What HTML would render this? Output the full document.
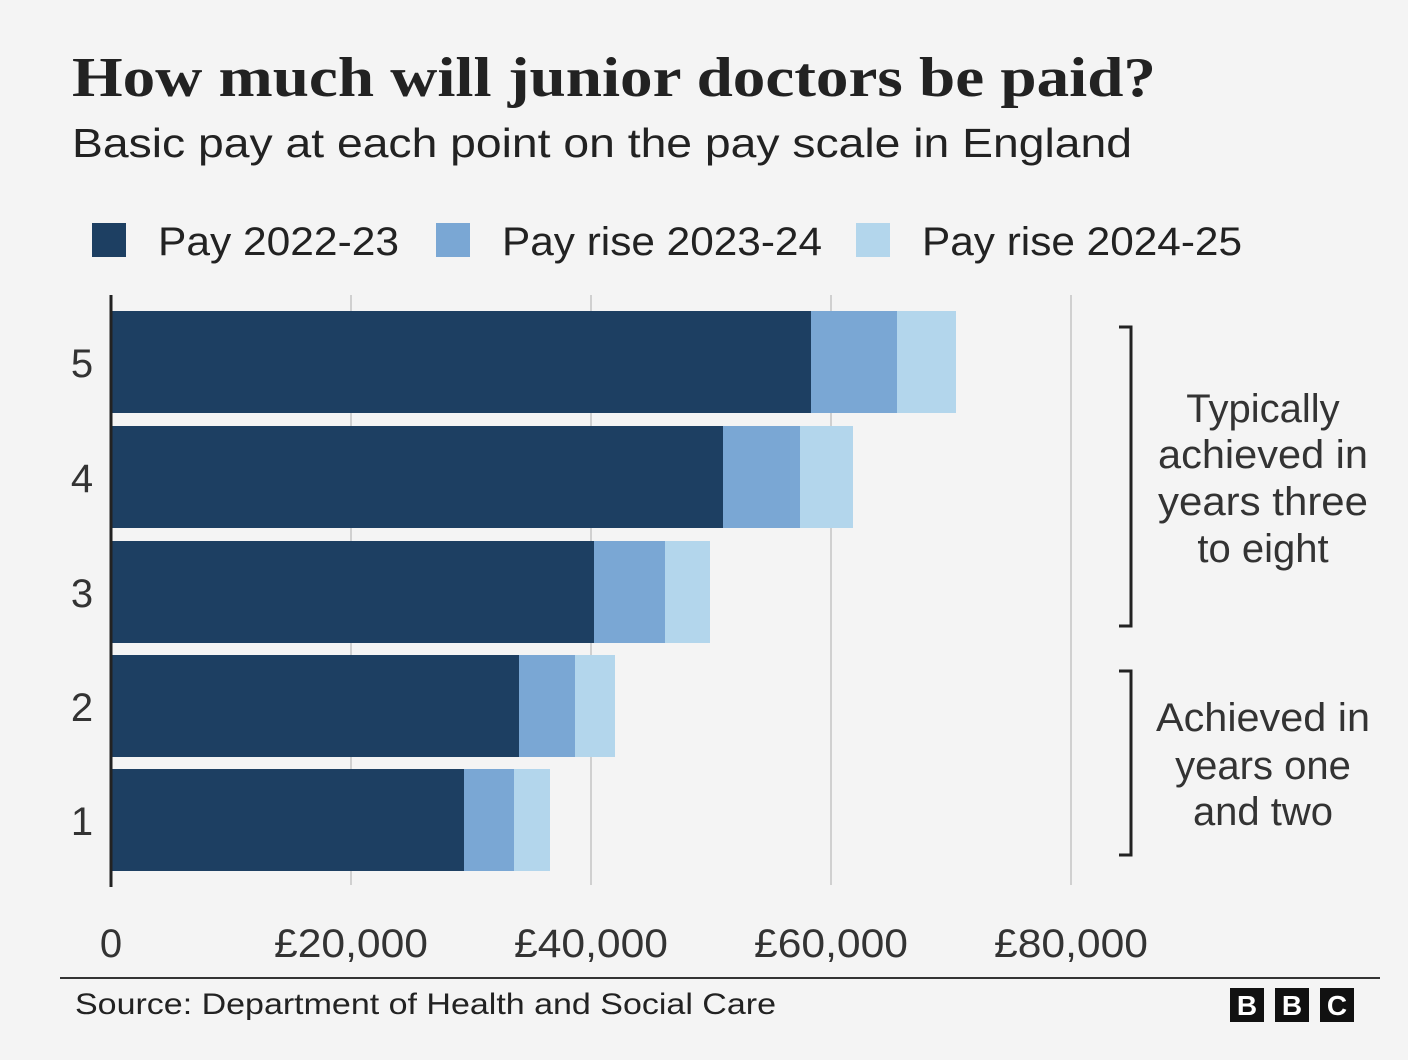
<!DOCTYPE html>
<html><head><meta charset="utf-8"><style>
body{margin:0;background:#f4f4f4;}
svg{display:block}
</style></head><body>
<svg width="1408" height="1060" xmlns="http://www.w3.org/2000/svg" font-family="Liberation Sans, sans-serif">
<rect width="1408" height="1060" fill="#f4f4f4"/>
<text x="72" y="96" font-family="Liberation Serif, serif" font-weight="bold" font-size="56" fill="#222" textLength="1084" lengthAdjust="spacingAndGlyphs">How much will junior doctors be paid?</text>
<text x="72" y="157" font-size="41" fill="#222" textLength="1060" lengthAdjust="spacingAndGlyphs">Basic pay at each point on the pay scale in England</text>
<rect x="92" y="223" width="34" height="34" fill="#1d3f62"/>
<text x="158" y="255" font-size="40" fill="#222" textLength="241" lengthAdjust="spacingAndGlyphs">Pay 2022-23</text>
<rect x="436" y="223" width="34" height="34" fill="#7aa7d4"/>
<text x="502" y="255" font-size="40" fill="#222" textLength="320" lengthAdjust="spacingAndGlyphs">Pay rise 2023-24</text>
<rect x="856" y="223" width="34" height="34" fill="#b3d6ec"/>
<text x="922" y="255" font-size="40" fill="#222" textLength="320" lengthAdjust="spacingAndGlyphs">Pay rise 2024-25</text>
<g stroke="#d0d0d0" stroke-width="2">
<line x1="351" y1="295" x2="351" y2="885"/><line x1="591" y1="295" x2="591" y2="885"/>
<line x1="831" y1="295" x2="831" y2="885"/><line x1="1071" y1="295" x2="1071" y2="885"/>
</g>
<g>
<rect x="111" y="311" width="700" height="102" fill="#1d3f62"/><rect x="811" y="311" width="86" height="102" fill="#7aa7d4"/><rect x="897" y="311" width="59" height="102" fill="#b3d6ec"/>
<rect x="111" y="426" width="612" height="102" fill="#1d3f62"/><rect x="723" y="426" width="77" height="102" fill="#7aa7d4"/><rect x="800" y="426" width="53" height="102" fill="#b3d6ec"/>
<rect x="111" y="541" width="483" height="102" fill="#1d3f62"/><rect x="594" y="541" width="71" height="102" fill="#7aa7d4"/><rect x="665" y="541" width="45" height="102" fill="#b3d6ec"/>
<rect x="111" y="655" width="408" height="102" fill="#1d3f62"/><rect x="519" y="655" width="56" height="102" fill="#7aa7d4"/><rect x="575" y="655" width="40" height="102" fill="#b3d6ec"/>
<rect x="111" y="769" width="353" height="102" fill="#1d3f62"/><rect x="464" y="769" width="50" height="102" fill="#7aa7d4"/><rect x="514" y="769" width="36" height="102" fill="#b3d6ec"/>
</g>
<line x1="111" y1="295" x2="111" y2="887" stroke="#222" stroke-width="3"/>
<g font-size="40" fill="#333" text-anchor="middle">
<text x="82" y="377">5</text><text x="82" y="492">4</text><text x="82" y="607">3</text><text x="82" y="721">2</text><text x="82" y="835">1</text>
</g>
<g font-size="40" fill="#333" text-anchor="middle">
<text x="111" y="957">0</text><text x="351" y="957" textLength="154" lengthAdjust="spacingAndGlyphs">£20,000</text><text x="591" y="957" textLength="154" lengthAdjust="spacingAndGlyphs">£40,000</text><text x="831" y="957" textLength="154" lengthAdjust="spacingAndGlyphs">£60,000</text><text x="1071" y="957" textLength="154" lengthAdjust="spacingAndGlyphs">£80,000</text>
</g>
<g stroke="#222" stroke-width="3" fill="none">
<polyline points="1119,327 1131,327 1131,626 1119,626"/>
<polyline points="1119,671 1131,671 1131,855 1119,855"/>
</g>
<g font-size="40" fill="#333" text-anchor="middle">
<text x="1263" y="422">Typically</text><text x="1263" y="468" textLength="210" lengthAdjust="spacingAndGlyphs">achieved in</text><text x="1263" y="515" textLength="210" lengthAdjust="spacingAndGlyphs">years three</text><text x="1263" y="562">to eight</text>
<text x="1263" y="731" textLength="214" lengthAdjust="spacingAndGlyphs">Achieved in</text><text x="1263" y="779">years one</text><text x="1263" y="825">and two</text>
</g>
<line x1="60" y1="978" x2="1380" y2="978" stroke="#333" stroke-width="2"/>
<text x="75" y="1014" font-size="30" fill="#222" textLength="701" lengthAdjust="spacingAndGlyphs">Source: Department of Health and Social Care</text>
<g font-weight="bold" font-size="28" fill="#fff" text-anchor="middle">
<rect x="1230" y="988" width="34" height="34" fill="#111"/><text x="1247" y="1015">B</text>
<rect x="1275" y="988" width="34" height="34" fill="#111"/><text x="1292" y="1015">B</text>
<rect x="1320" y="988" width="34" height="34" fill="#111"/><text x="1337" y="1015">C</text>
</g>
</svg>
</body></html>
